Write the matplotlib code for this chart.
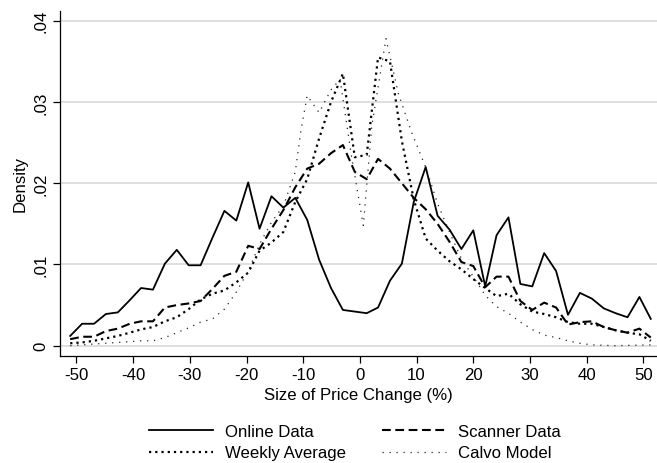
import matplotlib
matplotlib.use("Agg")
import matplotlib.pyplot as plt

plt.rcParams['font.family'] = ['Liberation Sans', 'DejaVu Sans']
plt.rcParams['axes.unicode_minus'] = False

# shared grid of bin centres (Size of Price Change, %)
x = [-51.1, -49.0, -46.9, -44.8, -42.7, -40.6, -38.6, -36.5, -34.4, -32.3,
     -30.2, -28.1, -26.0, -23.9, -21.8, -19.7, -17.7, -15.6, -13.5, -11.4,
     -9.3, -7.2, -5.1, -3.0, -0.9, 1.2, 3.2, 5.3, 7.4, 9.5,
     11.6, 13.7, 15.8, 17.9, 20.0, 22.1, 24.1, 26.2, 28.3, 30.4,
     32.5, 34.6, 36.7, 38.8, 40.9, 43.0, 45.1, 47.2, 49.3, 51.3]

online = [0.0012, 0.0027, 0.0027, 0.0039, 0.0041, 0.0056, 0.0071, 0.0069, 0.0101, 0.0118,
          0.0099, 0.0099, 0.0133, 0.0166, 0.0154, 0.0201, 0.0144, 0.0184, 0.0170, 0.0182,
          0.0155, 0.0106, 0.0071, 0.0044, 0.0042, 0.0040, 0.0047, 0.0080, 0.0101, 0.0177,
          0.0220, 0.0160, 0.0143, 0.0119, 0.0142, 0.0073, 0.0136, 0.0158, 0.0076, 0.0073,
          0.0114, 0.0092, 0.0038, 0.0065, 0.0058, 0.0046, 0.0040, 0.0035, 0.0060, 0.0033]

scanner = [0.0008, 0.0011, 0.0011, 0.0018, 0.0021, 0.0027, 0.0030, 0.0030, 0.0047, 0.0050,
           0.0052, 0.0055, 0.0070, 0.0086, 0.0091, 0.0123, 0.0119, 0.0144, 0.0167, 0.0195,
           0.0218, 0.0224, 0.0237, 0.0247, 0.0214, 0.0205, 0.0230, 0.0218, 0.0200, 0.0182,
           0.0168, 0.0150, 0.0128, 0.0103, 0.0098, 0.0072, 0.0085, 0.0085, 0.0055, 0.0044,
           0.0053, 0.0047, 0.0026, 0.0029, 0.0030, 0.0023, 0.0019, 0.0016, 0.0021, 0.0010]

weekly = [0.0003, 0.0004, 0.0006, 0.0009, 0.0012, 0.0016, 0.0020, 0.0023, 0.0030, 0.0035,
          0.0045, 0.0057, 0.0064, 0.0068, 0.0078, 0.0090, 0.0117, 0.0127, 0.0140, 0.0177,
          0.0205, 0.0255, 0.0300, 0.0335, 0.0232, 0.0235, 0.0355, 0.0350, 0.0252, 0.0180,
          0.0132, 0.0117, 0.0104, 0.0094, 0.0082, 0.0071, 0.0061, 0.0064, 0.0051, 0.0042,
          0.0039, 0.0035, 0.0029, 0.0027, 0.0027, 0.0023, 0.0019, 0.0016, 0.0014, 0.0006]

calvo_x = [-51.1, -47.0, -42.7, -38.6, -36.5, -34.4, -32.3, -30.2, -28.1, -26.0,
           -23.9, -21.8, -19.7, -17.7, -15.6, -13.5, -11.4, -10.4, -9.3, -7.2,
           -5.1, -3.5, -1.5, 0.6, 2.1, 4.6, 6.8, 9.1, 11.7, 13.7,
           15.8, 17.9, 20.0, 22.1, 24.1, 26.2, 28.3, 30.4, 32.5, 34.6,
           36.7, 38.8, 40.9, 45.0, 51.3]
calvo = [0.0000, 0.0002, 0.0004, 0.0006, 0.0006, 0.0010, 0.0016, 0.0022, 0.0029, 0.0033,
         0.0045, 0.0066, 0.0092, 0.0125, 0.0152, 0.0172, 0.0214, 0.0265, 0.0308, 0.0287,
         0.0315, 0.0328, 0.0234, 0.0148, 0.0271, 0.0378, 0.0310, 0.0263, 0.0218, 0.0175,
         0.0140, 0.0107, 0.0085, 0.0062, 0.0048, 0.0040, 0.0029, 0.0020, 0.0013, 0.0010,
         0.0006, 0.0003, 0.0001, 0.0000, 0.0001]

xticks = [-50, -40, -30, -20, -10, 0, 10, 20, 30, 40, 50]
yticks = [0, 0.01, 0.02, 0.03, 0.04]
ytick_labels = ["0", ".01", ".02", ".03", ".04"]

FS = 12.1

fig = plt.figure(figsize=(6.57, 4.64), dpi=100)
ax = fig.add_axes([0.0913, 0.2313, 0.9087, 0.7427])

l1, = ax.plot(x, online, color='black', lw=1.3, linestyle='-', label='Online Data')
l2, = ax.plot(x, scanner, color='black', lw=1.5, linestyle=(0, (4.2, 2.2)), label='Scanner Data')
l3, = ax.plot(x, weekly, color='black', lw=1.6, linestyle=(0, (1, 1.8)), label='Weekly Average')
l4, = ax.plot(calvo_x, calvo, color='#222222', lw=0.9, linestyle=(0, (1, 4.6)), label='Calvo Model')

ax.set_xlim(-52.9, 52.4)
ax.set_ylim(-0.00123, 0.0412)
ax.set_xticks(xticks)
ax.set_yticks(yticks)
ax.set_yticklabels(ytick_labels, rotation=90, va='center')
ax.tick_params(axis='both', labelsize=FS, length=5, width=0.9, direction='out')
ax.grid(axis='y', color='#dcdcdc', lw=1.3)
ax.set_axisbelow(True)
for s in ['top', 'right']:
    ax.spines[s].set_visible(False)
ax.spines['left'].set_linewidth(0.9)
ax.spines['bottom'].set_linewidth(0.9)

ax.set_xlabel('Size of Price Change (%)', fontsize=FS, labelpad=3)
ax.set_ylabel('Density', fontsize=FS, labelpad=4)

fig.legend(handles=[l1, l3, l2, l4], loc='lower center', bbox_to_anchor=(0.54, -0.027),
           ncol=2, frameon=False, fontsize=FS, handlelength=3.8, columnspacing=2.15,
           labelspacing=0.38, handletextpad=0.7)

fig.savefig('out.png', dpi=100)
